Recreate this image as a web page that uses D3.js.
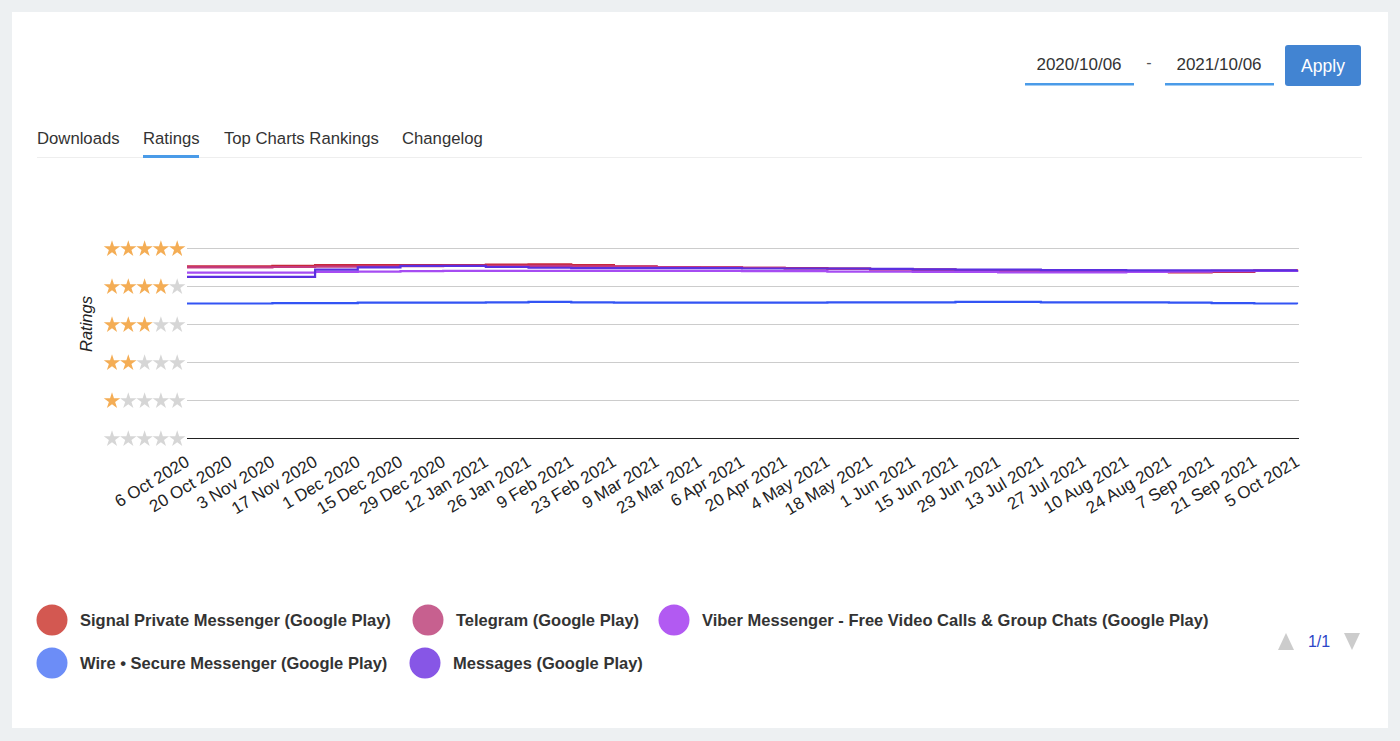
<!DOCTYPE html>
<html>
<head>
<meta charset="utf-8">
<script src="https://cdn.jsdelivr.net/npm/d3@7"></script>
<style>
  html, body { margin: 0; padding: 0; background: #edf0f2; }
  svg { display: block; }
</style>
</head>
<body>
<div id="chart"></div>
<script>
// tick dates, every 14 days
var dates = ["2020-10-06","2020-10-20","2020-11-03","2020-11-17","2020-12-01","2020-12-15","2020-12-29",
  "2021-01-12","2021-01-26","2021-02-09","2021-02-23","2021-03-09","2021-03-23","2021-04-06",
  "2021-04-20","2021-05-04","2021-05-18","2021-06-01","2021-06-15","2021-06-29","2021-07-13",
  "2021-07-27","2021-08-10","2021-08-24","2021-09-07","2021-09-21","2021-10-05"];

var seriesNames = ["Signal Private Messenger (Google Play)", "Telegram (Google Play)",
  "Viber Messenger - Free Video Calls & Group Chats (Google Play)",
  "Wire \u2022 Secure Messenger (Google Play)", "Messages (Google Play)"];

var signal   = [4.52,4.52,4.53,4.55,4.55,4.55,4.55,4.56,4.57,4.55,4.52,4.50,4.49,4.48,4.47,4.46,4.44,4.43,4.41,4.39,4.38,4.37,4.37,4.36,4.37,4.40,4.44];
var telegram = [4.49,4.49,4.50,4.51,4.52,4.52,4.53,4.53,4.53,4.52,4.51,4.50,4.49,4.48,4.46,4.45,4.44,4.43,4.42,4.41,4.40,4.39,4.39,4.39,4.40,4.41,4.43];
var viber    = [4.35,4.35,4.35,4.37,4.38,4.39,4.40,4.40,4.40,4.40,4.40,4.40,4.40,4.39,4.39,4.38,4.38,4.37,4.37,4.36,4.36,4.36,4.37,4.38,4.39,4.40,4.42];
var wire     = [3.54,3.54,3.55,3.55,3.56,3.56,3.56,3.57,3.58,3.57,3.56,3.56,3.56,3.56,3.56,3.57,3.57,3.57,3.58,3.58,3.57,3.57,3.57,3.56,3.55,3.54,3.52];
var messages = [4.24,4.24,4.24,4.43,4.49,4.53,4.53,4.50,4.48,4.47,4.47,4.47,4.47,4.46,4.46,4.46,4.45,4.44,4.43,4.43,4.42,4.42,4.41,4.41,4.41,4.41,4.42];

var ratingTicks = [0, 1, 2, 3, 4, 5];
var tabs = ["Downloads", "Ratings", "Top Charts Rankings", "Changelog"];
var dateRange = ["2020/10/06", "2021/10/06"];

var lineColors   = ["#c8283a", "#c43a80", "#a64cf2", "#3354f4", "#5b2fe0"];
var legendColors = ["#d35851", "#c7608f", "#b25af2", "#6c8df7", "#8756e6"];
var allSeries = [signal, telegram, viber, wire, messages];

var W = 1400, H = 741;
var font = "'Liberation Sans', Arial, sans-serif";
var parse = d3.timeParse("%Y-%m-%d");
var dateObjs = dates.map(parse);

var svg = d3.select("#chart").append("svg")
    .attr("width", W)
    .attr("height", H);

// card
svg.append("rect")
    .attr("x", 12).attr("y", 12)
    .attr("width", 1376).attr("height", 716)
    .attr("fill", "#fff");

// date pickers
var pickerX = [1025, 1165];
dateRange.forEach(function(t, i) {
  svg.append("text")
      .text(t)
      .attr("x", pickerX[i] + 54).attr("y", 70)
      .attr("text-anchor", "middle")
      .attr("font-family", font).attr("font-size", 17)
      .attr("fill", "#333");
  svg.append("rect")
      .attr("x", pickerX[i]).attr("y", 83)
      .attr("width", 109).attr("height", 2.5)
      .attr("fill", "#4a9be8");
});
svg.append("text").text("-")
    .attr("x", 1149).attr("y", 68)
    .attr("text-anchor", "middle")
    .attr("font-family", font).attr("font-size", 16)
    .attr("fill", "#555");
svg.append("rect")
    .attr("x", 1285).attr("y", 45)
    .attr("width", 76).attr("height", 41)
    .attr("rx", 3)
    .attr("fill", "#4284d2");
svg.append("text").text("Apply")
    .attr("x", 1323).attr("y", 72)
    .attr("text-anchor", "middle")
    .attr("font-family", font).attr("font-size", 17.5)
    .attr("fill", "#fff");

// tabs
var tabX = [37, 143, 224, 402];
svg.append("rect")
    .attr("x", 37).attr("y", 157)
    .attr("width", 1325).attr("height", 1)
    .attr("fill", "#eeeeee");
tabs.forEach(function(t, i) {
  svg.append("text")
      .text(t)
      .attr("x", tabX[i]).attr("y", 144)
      .attr("font-family", font).attr("font-size", 16.7)
      .attr("fill", "#333");
});
svg.append("rect")
    .attr("x", 143).attr("y", 155)
    .attr("width", 56).attr("height", 3)
    .attr("fill", "#4a9be8");

// scales
var x = d3.scaleTime()
    .domain([dateObjs[0], dateObjs[dateObjs.length - 1]])
    .range([187, 1297]);
var y = d3.scaleLinear()
    .domain([0, 5])
    .range([438, 248]);

// grid
svg.append("g")
    .selectAll("line")
    .data(ratingTicks)
    .enter().append("line")
    .attr("x1", 187).attr("x2", 1299)
    .attr("y1", function(d) { return y(d) + 0.5; })
    .attr("y2", function(d) { return y(d) + 0.5; })
    .attr("stroke", function(d) { return d === 0 ? "#222" : "#cccccc"; })
    .attr("stroke-width", 1);

// star labels
var star = d3.symbol().type(d3.symbolStar).size(84);
var starG = svg.append("g");
ratingTicks.forEach(function(r) {
  for (var k = 0; k < 5; k++) {
    starG.append("path")
        .attr("d", star())
        .attr("transform", "translate(" + (112 + k * 16.3) + "," + (y(r) + 1) + ")")
        .attr("fill", k < r ? "#f4ad55" : "#d6d6d6");
  }
});

svg.append("text")
    .text("Ratings")
    .attr("transform", "translate(92,324) rotate(-90)")
    .attr("text-anchor", "middle")
    .attr("font-family", font).attr("font-size", 16.5)
    .attr("font-style", "italic")
    .attr("fill", "#222");

// x axis labels
var fmt = d3.timeFormat("%-d %b %Y");
var xAxis = d3.axisBottom(x)
    .tickValues(dateObjs)
    .tickSize(0)
    .tickFormat(fmt);
var xg = svg.append("g")
    .attr("transform", "translate(0,438)")
    .call(xAxis);
xg.select(".domain").remove();
xg.selectAll("text")
    .attr("font-family", font).attr("font-size", 17)
    .attr("fill", "#222")
    .attr("text-anchor", "end")
    .attr("dy", null)
    .attr("y", 0)
    .attr("transform", "translate(3,27) rotate(-31)");

// lines
var line = d3.line()
    .x(function(d, i) { return x(dateObjs[i]); })
    .y(function(d) { return y(d); })
    .curve(d3.curveStepAfter);

svg.append("g")
    .selectAll("path")
    .data(allSeries)
    .enter().append("path")
    .attr("d", line)
    .attr("fill", "none")
    .attr("stroke", function(d, i) { return lineColors[i]; })
    .attr("stroke-width", 2.2);

// legend
var legendPos = [[52, 620], [428, 620], [674, 620], [52, 663], [425, 663]];
seriesNames.forEach(function(n, i) {
  svg.append("circle")
      .attr("cx", legendPos[i][0]).attr("cy", legendPos[i][1])
      .attr("r", 15.5)
      .attr("fill", legendColors[i]);
  svg.append("text")
      .text(n)
      .attr("x", legendPos[i][0] + 28).attr("y", legendPos[i][1] + 6)
      .attr("font-family", font).attr("font-size", 16.5)
      .attr("font-weight", "bold")
      .attr("fill", "#333");
});

// pager
svg.append("path")
    .attr("d", "M1278,650 L1294,650 L1286,633 Z")
    .attr("fill", "#cccccc");
svg.append("path")
    .attr("d", "M1344,633 L1360,633 L1352,650 Z")
    .attr("fill", "#cccccc");
svg.append("text").text("1/1")
    .attr("x", 1319).attr("y", 647)
    .attr("text-anchor", "middle")
    .attr("font-family", font).attr("font-size", 16)
    .attr("fill", "#2b45c8");
</script>
</body>
</html>
